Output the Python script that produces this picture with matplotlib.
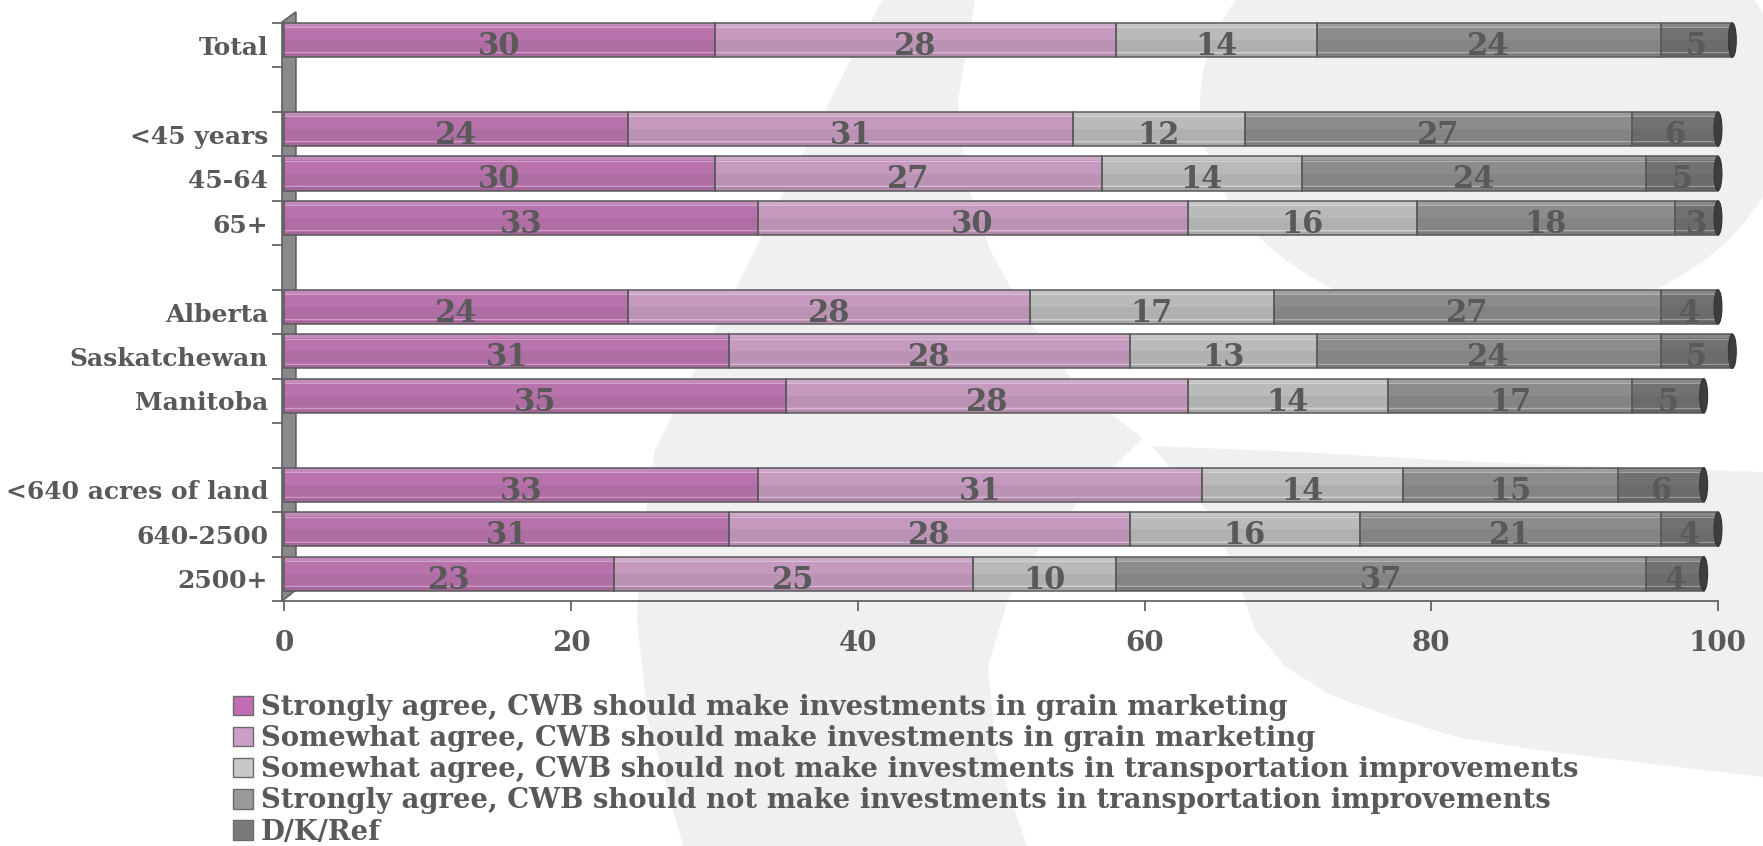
import matplotlib.pyplot as plt
from matplotlib.patches import Ellipse, Polygon, Patch
import numpy as np

# survey groups (blank slot between groups)
groups = [
    ['Total'],
    ['<45 years', '45-64', '65+'],
    ['Alberta', 'Saskatchewan', 'Manitoba'],
    ['<640 acres of land', '640-2500', '2500+'],
]

series_names = [
    'Strongly agree, CWB should make investments in grain marketing',
    'Somewhat agree, CWB should make investments in grain marketing',
    'Somewhat agree, CWB should not make investments in transportation improvements',
    'Strongly agree, CWB should not make investments in transportation improvements',
    'D/K/Ref',
]

strongly_invest = [30, 24, 30, 33, 24, 31, 35, 33, 31, 23]
somewhat_invest = [28, 31, 27, 30, 28, 28, 28, 31, 28, 25]
somewhat_not = [14, 12, 14, 16, 17, 13, 14, 14, 16, 10]
strongly_not = [24, 27, 24, 18, 27, 24, 17, 15, 21, 37]
dk_ref = [5, 6, 5, 3, 4, 5, 5, 6, 4, 4]

series = [strongly_invest, somewhat_invest, somewhat_not, strongly_not, dk_ref]

bar_colors = ['#b873ac', '#c59abe', '#bababa', '#8c8c8c', '#717171']
legend_colors = ['#c06db2', '#cc9dc6', '#c8c8c8', '#999999', '#7a7a7a']
text_color = '#595959'
FONT = 'DejaVu Serif'

W, H = 1763, 846
fig = plt.figure(figsize=(W / 100, H / 100), dpi=100)
fig.patch.set_facecolor('white')


def px(points):
    return [(x / W, 1 - y / H) for x, y in points]


# light watermark shapes in the background
bg = '#f0f0f0'
swoosh = [(882, 0), (830, 100), (780, 200), (730, 300), (690, 380), (655, 450),
          (640, 550), (637, 620), (648, 720), (683, 846), (1027, 846),
          (996, 753), (988, 666), (1008, 600), (1045, 540), (1085, 495), (1143, 438),
          (1080, 390), (1030, 322), (990, 250), (966, 180), (958, 100), (975, 0)]
fig.patches.append(Polygon(px(swoosh), closed=True, facecolor=bg, edgecolor='none',
                           transform=fig.transFigure, zorder=-2))
fig.patches.append(Ellipse((1495 / W, 1 - 105 / H), 590 / W, 440 / H, facecolor=bg,
                           edgecolor='none', transform=fig.transFigure, zorder=-2))
wedge = [(1152, 446), (1300, 452), (1438, 460), (1600, 467), (1763, 472),
         (1763, 777), (1560, 753), (1460, 738), (1395, 718), (1330, 695),
         (1285, 666), (1255, 630), (1241, 589), (1215, 520)]
fig.patches.append(Polygon(px(wedge), closed=True, facecolor=bg, edgecolor='none',
                           transform=fig.transFigure, zorder=-2))

ax = fig.add_axes([282 / W, 1 - 601 / H, 1436 / W, 578 / H])
ax.set_facecolor('none')

positions = []
labels = []
slot = 0
for g in groups:
    for name in g:
        positions.append(slot)
        labels.append(name)
        slot += 1
    slot += 1
positions = np.array(positions, dtype=float)
n_slots = slot - 1

BAR_H = 0.77
tops = positions - 0.5

# left wall of the 3D frame
ax.fill([-0.17, 0.80, 0.80, -0.17], [n_slots - 0.5, n_slots - 0.75, -0.75, -0.52],
        facecolor='#8a8a8a', edgecolor='#5f5f5f', linewidth=1.2, clip_on=False, zorder=2)

stripes = [(0.00, 0.12, 'white', 0.16), (0.13, 0.03, 'white', 0.35),
           (0.50, 0.34, 'black', 0.05), (0.86, 0.03, 'white', 0.30),
           (0.90, 0.10, 'black', 0.10)]

lefts = np.zeros(len(positions))
for vals, color in zip(series, bar_colors):
    vals = np.array(vals, dtype=float)
    ax.barh(tops, vals, left=lefts, height=BAR_H, align='edge', color=color,
            linewidth=0, zorder=3, clip_on=False)
    for off, h, c, a in stripes:
        ax.barh(tops + off * BAR_H, vals, left=lefts, height=h * BAR_H, align='edge',
                color=c, alpha=a, linewidth=0, zorder=4, clip_on=False)
    ax.barh(tops, vals, left=lefts, height=BAR_H, align='edge', fill=False,
            edgecolor='#5a5a5a', linewidth=1.1, zorder=5, clip_on=False)
    for p, l, v in zip(positions, lefts, vals):
        ax.text(l + v / 2, p + 0.03, f'{v:.0f}', ha='center', va='center',
                fontsize=22, fontweight='bold', family=FONT, color=text_color,
                zorder=8, clip_on=False)
    lefts = lefts + vals

# dark end caps of the cylinders
for p, total in zip(positions, lefts):
    ax.add_patch(Ellipse((total, p - 0.5 + BAR_H / 2), 0.55, BAR_H, facecolor='#3e3e3e',
                         edgecolor='#333333', linewidth=0.8, zorder=6, clip_on=False))

ax.set_xlim(-0.17, 100)
ax.set_ylim(n_slots - 0.5, -0.5)

ax.set_xticks(range(0, 101, 20))
ax.tick_params(axis='x', direction='out', length=7, width=1.2, color=text_color,
               labelsize=20, labelcolor=text_color, pad=14)
ax.set_yticks(positions)
ax.set_yticklabels(labels)
ax.set_yticks(np.arange(-0.5, n_slots, 1.0), minor=True)
ax.tick_params(axis='y', which='major', length=0, pad=10, labelsize=18,
               labelcolor=text_color)
ax.tick_params(axis='y', which='minor', direction='out', length=7, width=1.2,
               color=text_color)
for lab in ax.get_xticklabels() + ax.get_yticklabels():
    lab.set_family(FONT)
    lab.set_fontweight('bold')

for side in ['top', 'right', 'left']:
    ax.spines[side].set_visible(False)
ax.spines['bottom'].set_color(text_color)
ax.spines['bottom'].set_linewidth(1.2)

handles = [Patch(facecolor=c, edgecolor='#6b6b6b', linewidth=1.0) for c in legend_colors]
leg = fig.legend(handles, series_names, loc='upper left',
                 bbox_to_anchor=(233 / W, 1 - 694 / H), frameon=False,
                 borderpad=0, borderaxespad=0, handlelength=0.72, handleheight=0.72,
                 handletextpad=0.3, labelspacing=0.15,
                 prop={'family': FONT, 'weight': 'bold', 'size': 19.8})
for t in leg.get_texts():
    t.set_color(text_color)

fig.savefig('out.png', dpi=100)
plt.close(fig)
